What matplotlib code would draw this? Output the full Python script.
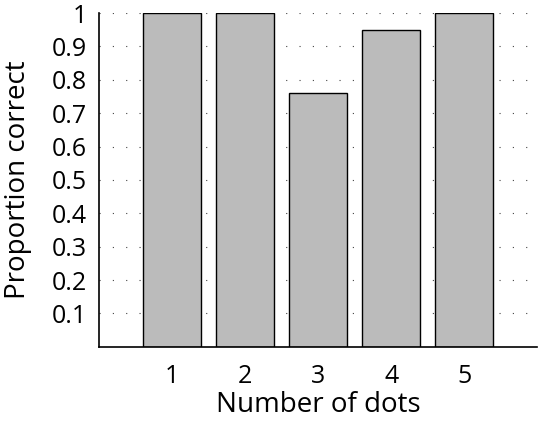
import matplotlib.pyplot as plt

plt.rcParams["font.family"] = ["Open Sans", "DejaVu Sans"]

num_dots = [1, 2, 3, 4, 5]
prop_correct = [1.0, 1.0, 0.76, 0.95, 1.0]
y_ticks = [0.1, 0.2, 0.3, 0.4, 0.5, 0.6, 0.7, 0.8, 0.9, 1.0]
y_tick_labels = ["0.1", "0.2", "0.3", "0.4", "0.5", "0.6", "0.7", "0.8", "0.9", "1"]

fig = plt.figure(figsize=(5.42, 4.23), dpi=100)
ax = fig.add_axes([0.183, 0.18, 0.808, 0.789])

ax.bar(num_dots, prop_correct, width=0.8, color="#bbbbbb", edgecolor="black",
       linewidth=1.0, zorder=2)

ax.set_xlim(0, 6)
ax.set_ylim(0, 1)
ax.set_xticks(num_dots)
ax.set_yticks(y_ticks)
ax.set_yticklabels(y_tick_labels)
ax.tick_params(length=0, labelsize=18)
ax.tick_params(axis="x", pad=12)
ax.tick_params(axis="y", pad=9)
ax.yaxis.grid(True, color="#444444", linestyle=(0, (1, 11)), linewidth=0.8, zorder=0)
ax.set_axisbelow(True)

for side in ("top", "right"):
    ax.spines[side].set_visible(False)
for side in ("left", "bottom"):
    ax.spines[side].set_linewidth(1.2)

ax.set_xlabel("Number of dots", fontsize=20, labelpad=2)
ax.set_ylabel("Proportion correct", fontsize=20, labelpad=14)

fig.savefig("out.png", dpi=100)
